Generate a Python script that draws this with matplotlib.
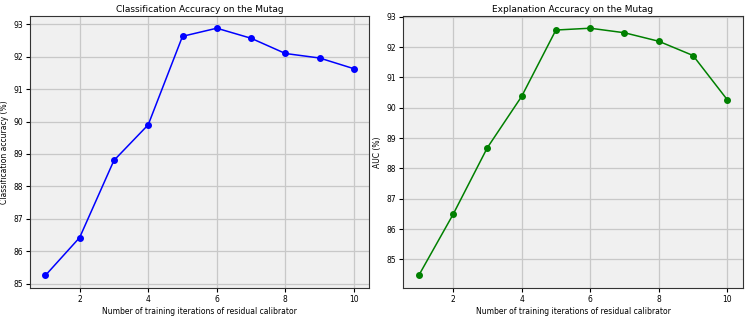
import matplotlib
matplotlib.use('Agg')
import matplotlib.pyplot as plt

iterations = [1, 2, 3, 4, 5, 6, 7, 8, 9, 10]
cls_acc = [85.25, 86.42, 88.80, 89.90, 92.63, 92.88, 92.57, 92.10, 91.96, 91.63]
auc = [84.47, 86.48, 88.68, 90.37, 92.56, 92.62, 92.47, 92.19, 91.72, 90.26]

plt.rcParams.update({'font.size': 5.5, 'axes.titlesize': 6.5, 'axes.labelsize': 5.5})

fig, (ax1, ax2) = plt.subplots(1, 2, figsize=(7.48, 3.17), dpi=100)
fig.subplots_adjust(left=0.04, right=0.993, top=0.95, bottom=0.092, wspace=0.1)

panels = [
    (ax1, cls_acc, 'blue', 'Classification Accuracy on the Mutag', 'Classification accuracy (%)'),
    (ax2, auc, 'green', 'Explanation Accuracy on the Mutag', 'AUC (%)'),
]
for ax, vals, col, title, ylab in panels:
    ax.set_facecolor('#f0f0f0')
    ax.plot(iterations, vals, '-o', color=col, lw=1.1, ms=4)
    ax.grid(True, color='#c8c8c8', lw=0.9)
    ax.set_axisbelow(True)
    ax.set_title(title, pad=3)
    ax.set_xlabel('Number of training iterations of residual calibrator', labelpad=2)
    ax.set_ylabel(ylab, labelpad=3)
    ax.set_xticks([2, 4, 6, 8, 10])
    ax.tick_params(length=3, pad=2)
    for s in ax.spines.values():
        s.set_color('#333333')

fig.savefig('out.png', dpi=100)
